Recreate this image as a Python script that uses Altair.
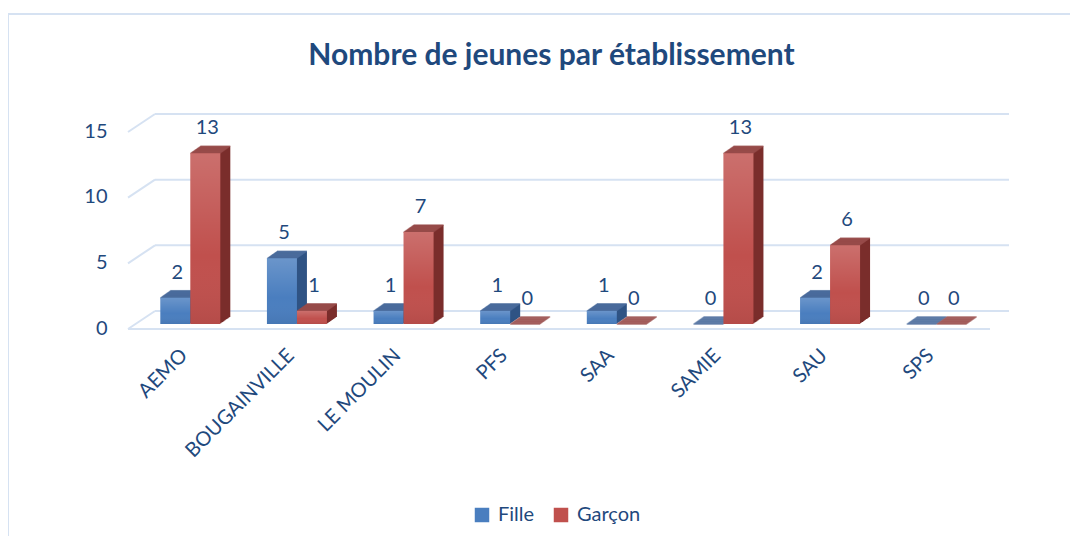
import altair as alt
import pandas as pd

etablissements = ["AEMO", "BOUGAINVILLE", "LE MOULIN", "PFS", "SAA", "SAMIE", "SAU", "SPS"]
fille = [2, 5, 1, 1, 1, 0, 2, 0]
garcon = [13, 1, 7, 0, 0, 13, 6, 0]
series = ["Fille", "Garçon"]
y_ticks = [0, 5, 10, 15]
title_text = "Nombre de jeunes par établissement"

rows = []
for i, e in enumerate(etablissements):
    rows.append({"etab": e, "serie": "Fille", "n": fille[i]})
    rows.append({"etab": e, "serie": "Garçon", "n": garcon[i]})
df = pd.DataFrame(rows)
grid_df = pd.DataFrame({"v": y_ticks})

TXT = "#1F497D"
FONT = "Lato"
GRID = "#d6e2f2"
styles = {
    "Fille": {"off": -15, "front": "#4a7ebf", "top": "#4d6d9e", "side": "#2f5384"},
    "Garçon": {"off": 15, "front": "#c0504d", "top": "#9a4f4d", "side": "#7a2d2b"},
}
DEPTH = 10
SLOPE = 0.7

xenc = alt.X("etab:N", sort=etablissements,
             scale=alt.Scale(paddingInner=0, paddingOuter=0),
             axis=alt.Axis(title=None, labelAngle=-45, labelFontSize=20, labelColor=TXT,
                           labelFont=FONT, domain=False, ticks=False, labelPadding=28,
                           labelOffset=-6, labelAlign="right", labelBaseline="middle",
                           grid=False))
yscale = alt.Scale(domain=[0, 15], nice=False, zero=True)
yaxis = alt.Axis(title=None, values=y_ticks, labelFontSize=20, labelColor=TXT,
                 labelFont=FONT, domain=False, ticks=False, grid=False,
                 labelPadding=30, labelOffset=4)
yenc = alt.Y("n:Q", scale=yscale, axis=yaxis)
yv = alt.Y("v:Q", scale=yscale, axis=yaxis)

base = alt.Chart(df)
layers = []

# outer chart border (decoration)
border = alt.Chart(grid_df).transform_filter("datum.v == 0").mark_rect(
    fill=None, stroke=GRID, strokeWidth=2
).encode(x=alt.value(-129), x2=alt.value(960), y=alt.value(-113), y2=alt.value(440))
layers.append(border)

# gridlines: back wall + diagonal side + front floor line
g = alt.Chart(grid_df)
layers.append(g.mark_rule(color=GRID, strokeWidth=2, yOffset=-13).encode(
    y=yv, x=alt.value(18), x2=alt.value(872)))
layers.append(g.mark_rule(color=GRID, strokeWidth=2, yOffset=5, y2Offset=-13).encode(
    y=yv, y2="v:Q", x=alt.value(-9), x2=alt.value(18)))
layers.append(g.transform_filter("datum.v == 0").mark_rule(
    color=GRID, strokeWidth=2, yOffset=5).encode(
    y=yv, x=alt.value(-9), x2=alt.value(853)))

for s in series:
    st = styles[s]
    b = base.transform_filter(alt.datum.serie == s)
    # side extrusion
    for k in range(1, DEPTH + 1):
        layers.append(b.mark_bar(width=30, xOffset=st["off"] + k, yOffset=-SLOPE * k,
                                 y2Offset=-SLOPE * k, color=st["side"]).encode(x=xenc, y=yenc))
    # top face
    for k in range(0, DEPTH + 1):
        layers.append(b.mark_tick(size=30, thickness=1.6, xOffset=st["off"] + k,
                                  yOffset=-SLOPE * k, color=st["top"]).encode(x=xenc, y=yenc))
    # front face
    layers.append(b.mark_bar(width=30, xOffset=st["off"]).encode(
        x=xenc, y=yenc,
        color=alt.Color("serie:N",
                        scale=alt.Scale(domain=series, range=[styles[v]["front"] for v in series]),
                        legend=alt.Legend(title=None, orient="none", direction="horizontal",
                                          legendX=335, legendY=378, symbolType="square",
                                          symbolSize=210, symbolStrokeWidth=0,
                                          labelFontSize=20, labelColor=TXT, labelFont=FONT,
                                          columnPadding=16, labelOffset=6, padding=0))))
    # gradient shading overlay
    layers.append(b.mark_bar(width=30, xOffset=st["off"], fill=alt.Gradient(
        gradient="linear", x1=0, x2=0, y1=0, y2=1,
        stops=[alt.GradientStop(color="rgba(255,255,255,0.18)", offset=0),
               alt.GradientStop(color="rgba(255,255,255,0)", offset=0.6),
               alt.GradientStop(color="rgba(0,0,0,0.06)", offset=1)])).encode(x=xenc, y=yenc))
    # value labels
    layers.append(b.mark_text(dx=st["off"] + 2, dy=-25, fontSize=20, font=FONT,
                              color=TXT, baseline="middle").encode(
        x=xenc, y=yenc, text="n:Q"))

chart = alt.layer(*layers).properties(
    width=853, height=197,
    autosize=alt.AutoSizeParams(type="none"),
    padding={"left": 129, "top": 119, "right": 80, "bottom": 212},
    title=alt.Title(title_text, fontSize=30, font=FONT, fontWeight="bold", color=TXT,
                    anchor="middle", dx=-12, offset=-82, baseline="alphabetic"),
).configure(background="white").configure_view(stroke=None)

chart.save("out.html", embed_options={"renderer": "svg", "actions": False})
